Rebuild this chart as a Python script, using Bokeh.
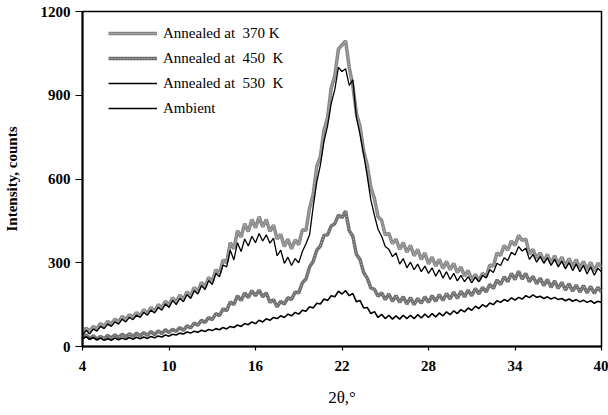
import numpy as np
from bokeh.plotting import figure
from bokeh.models import Range1d, FixedTicker, Legend, LegendItem
from bokeh.embed import file_html
from bokeh.resources import INLINE

two_theta = np.arange(4.0, 40.001, 0.25)

annealed_370 = [
    48, 66, 55, 72, 64, 82, 72, 90, 80, 98, 88, 108, 96, 114, 104, 122,
    110, 132, 118, 140, 126, 150, 138, 162, 148, 175, 158, 184, 168, 196, 180, 212,
    196, 230, 212, 248, 232, 275, 262, 310, 300, 372, 350, 415, 392, 440, 412, 455,
    425, 465, 428, 455, 412, 435, 385, 402, 358, 385, 350, 382, 365, 418, 415, 495,
    545, 645, 680, 775, 820, 925, 970, 1065, 1080, 1095, 1000, 935, 835, 790, 700, 650,
    570, 530, 465, 452, 400, 405, 368, 385, 348, 372, 338, 362, 325, 348, 312, 335,
    296, 320, 288, 312, 280, 305, 275, 298, 265, 285, 252, 272, 240, 258, 236, 262,
    250, 292, 288, 335, 326, 362, 345, 378, 362, 398, 380, 385, 332, 348, 315, 336,
    305, 330, 298, 325, 295, 320, 288, 315, 285, 312, 280, 305, 275, 302, 270, 298,
    285,
]

annealed_450 = [
    30, 42, 28, 38, 26, 36, 28, 40, 30, 42, 32, 44, 34, 46, 36, 48,
    38, 50, 40, 54, 42, 56, 46, 60, 50, 62, 54, 68, 58, 74, 66, 84,
    76, 94, 86, 104, 96, 118, 110, 135, 128, 160, 150, 182, 165, 192, 175, 200,
    182, 202, 178, 192, 158, 168, 142, 162, 152, 175, 168, 195, 192, 228, 242, 285,
    305, 345, 360, 398, 400, 432, 440, 470, 462, 485, 415, 395, 330, 312, 265, 245,
    210, 205, 180, 192, 168, 188, 162, 182, 158, 178, 152, 175, 150, 172, 155, 178,
    158, 182, 162, 186, 165, 190, 170, 195, 172, 198, 178, 202, 182, 208, 188, 212,
    195, 222, 208, 238, 222, 250, 232, 262, 240, 270, 242, 262, 232, 252, 225, 245,
    218, 240, 212, 235, 208, 230, 202, 225, 198, 220, 195, 218, 192, 215, 190, 212,
    195,
]

annealed_530 = [
    40, 58, 45, 62, 55, 72, 64, 80, 72, 88, 80, 98, 88, 104, 96, 112,
    104, 122, 112, 130, 120, 140, 130, 152, 140, 165, 150, 172, 160, 186, 172, 200,
    188, 218, 204, 236, 222, 262, 250, 292, 285, 345, 310, 372, 340, 385, 360, 395,
    372, 405, 378, 400, 370, 388, 325, 345, 298, 320, 290, 315, 300, 340, 368, 400,
    500, 590, 650, 735, 790, 870, 920, 1000, 985, 995, 935, 955, 820, 760, 690, 610,
    525, 470, 420, 395, 358, 348, 322, 335, 295, 315, 282, 302, 275, 295, 268, 288,
    262, 282, 252, 275, 245, 268, 240, 262, 235, 255, 232, 250, 228, 248, 232, 255,
    245, 275, 265, 298, 290, 318, 308, 338, 328, 358, 342, 352, 312, 330, 302, 322,
    298, 318, 290, 312, 285, 305, 278, 300, 272, 295, 268, 290, 260, 285, 255, 280,
    268,
]

ambient = [
    28, 35, 26, 32, 24, 30, 22, 28, 22, 30, 24, 30, 25, 32, 26, 33,
    28, 34, 29, 36, 31, 38, 34, 41, 37, 44, 41, 48, 45, 52, 48, 55,
    51, 58, 54, 61, 57, 64, 60, 68, 63, 72, 68, 77, 72, 82, 78, 88,
    82, 94, 88, 99, 94, 104, 100, 110, 104, 116, 110, 122, 116, 130, 126, 142,
    138, 155, 152, 170, 165, 182, 178, 198, 188, 200, 182, 190, 160, 165, 138, 140,
    118, 125, 104, 115, 100, 112, 98, 110, 98, 112, 100, 112, 100, 114, 102, 116,
    104, 118, 106, 120, 110, 124, 114, 128, 118, 132, 124, 138, 130, 144, 136, 150,
    142, 156, 150, 164, 158, 168, 162, 174, 166, 176, 170, 182, 175, 185, 176, 180,
    172, 178, 170, 176, 168, 172, 164, 170, 162, 168, 160, 166, 158, 164, 155, 162,
    158,
]

x_ticks = [4, 10, 16, 22, 28, 34, 40]
y_ticks = [0, 300, 600, 900, 1200]
legend_labels = ["Annealed at  370 K", "Annealed at  450  K", "Annealed at  530  K", "Ambient"]

for s in (annealed_370, annealed_450, annealed_530, ambient):
    assert len(s) == len(two_theta)

FONT = "Liberation Serif"

p = figure(width=608, height=415, output_backend="svg", toolbar_location=None,
           x_range=Range1d(4, 40), y_range=Range1d(0, 1200),
           min_border_left=82, min_border_right=7, min_border_top=11, min_border_bottom=69)
p.grid.visible = False
p.outline_line_color = "black"
p.outline_line_width = 1.5
p.background_fill_color = "white"
p.border_fill_color = "white"

r370a = p.line(two_theta, annealed_370, line_color="#858585", line_width=3.5)
r370b = p.line(two_theta, annealed_370, line_color="#b8b8b8", line_width=1.2, line_dash="1 1")
r450a = p.line(two_theta, annealed_450, line_color="#6e6e6e", line_width=3.5)
r450b = p.line(two_theta, annealed_450, line_color="#c4c4c4", line_width=1.0, line_dash="1 2")
r530 = p.line(two_theta, annealed_530, line_color="black", line_width=1.3)
ramb = p.line(two_theta, ambient, line_color="black", line_width=1.6)

for ax in (p.xaxis[0], p.yaxis[0]):
    ax.axis_line_width = 2
    ax.axis_line_color = "black"
    ax.major_tick_in = 0
    ax.minor_tick_in = 0
    ax.minor_tick_out = 0
    ax.major_tick_line_width = 1.2
    ax.major_label_text_font = FONT
    ax.major_label_text_font_style = "bold"
    ax.major_label_text_font_size = "15px"
    ax.major_label_text_color = "black"
    ax.axis_label_text_font = FONT
    ax.axis_label_text_color = "black"

p.xaxis.ticker = FixedTicker(ticks=x_ticks)
p.yaxis.ticker = FixedTicker(ticks=y_ticks)
p.xaxis.major_tick_out = 4
p.yaxis.major_tick_out = 7
p.xaxis.axis_label = "2θ,°"
p.xaxis.axis_label_text_font_style = "normal"
p.xaxis.axis_label_text_font_size = "17px"
p.xaxis.major_label_standoff = 10
p.xaxis.axis_label_standoff = 14
p.yaxis.axis_label = "Intensity, counts"
p.yaxis.axis_label_text_font_style = "bold"
p.yaxis.axis_label_text_font_size = "15px"
p.yaxis.major_label_standoff = 5
p.yaxis.axis_label_standoff = 18

legend = Legend(items=[
    LegendItem(label=legend_labels[0], renderers=[r370a, r370b]),
    LegendItem(label=legend_labels[1], renderers=[r450a, r450b]),
    LegendItem(label=legend_labels[2], renderers=[r530]),
    LegendItem(label=legend_labels[3], renderers=[ramb]),
], location=(26, 228))
legend.margin = 0
legend.padding = 0
legend.spacing = 5
legend.glyph_width = 49
legend.glyph_height = 20
legend.label_standoff = 6
legend.label_text_font = FONT
legend.label_text_font_size = "15px"
legend.label_text_color = "black"
legend.border_line_color = None
legend.background_fill_alpha = 0
p.add_layout(legend)

open("out.html", "w").write(file_html(p, INLINE))
